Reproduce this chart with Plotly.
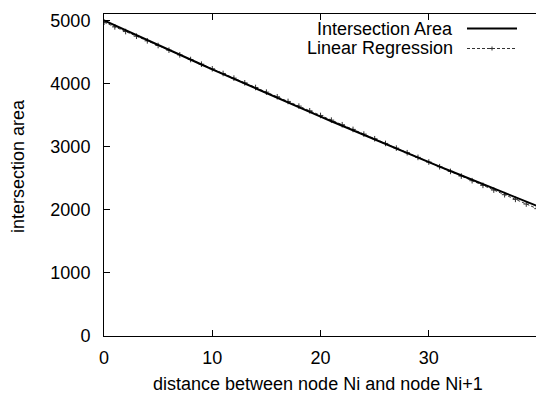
import plotly.graph_objects as go

distance = list(range(0, 41))
intersection_area = [5000, 4921, 4843, 4764, 4686, 4608, 4531, 4454, 4377, 4300,
                     4224, 4148, 4072, 3996, 3921, 3846, 3771, 3697, 3623, 3549,
                     3475, 3402, 3329, 3256, 3183, 3111, 3039, 2967, 2896, 2825,
                     2754, 2683, 2613, 2543, 2473, 2403, 2334, 2265, 2197, 2128, 2060]
linear_regression = [4970, 4896, 4822, 4748, 4675, 4601, 4527, 4453, 4379, 4305,
                     4232, 4158, 4084, 4010, 3936, 3862, 3789, 3715, 3641, 3567,
                     3493, 3419, 3346, 3272, 3198, 3124, 3050, 2976, 2903, 2829,
                     2755, 2681, 2607, 2533, 2460, 2386, 2312, 2238, 2164, 2090, 2017]
x_ticks = [0, 10, 20, 30, 40]
y_ticks = [0, 1000, 2000, 3000, 4000, 5000]
series_names = ["Intersection Area", "Linear Regression"]

FONT = "Liberation Sans, Arial, sans-serif"
W, H = 536, 394
L, R, T, B = 104, 0, 14, 58
pw, ph = W - L - R, H - T - B

fig = go.Figure()
fig.add_trace(go.Scatter(x=distance, y=linear_regression, mode="lines+markers",
                         line=dict(color="#333333", width=1, dash="3px,2px"),
                         marker=dict(symbol="cross-thin", size=4,
                                     line=dict(color="#333333", width=1)),
                         name=series_names[1], showlegend=False))
fig.add_trace(go.Scatter(x=distance, y=intersection_area, mode="lines",
                         line=dict(color="black", width=2), name=series_names[0],
                         showlegend=False))

def px_x(p):
    return (p - L) / pw

def px_y(p):
    return (H - B - p) / ph

# gnuplot-style key: text right-aligned, sample to the right
rows = [29, 48]
for i, name in enumerate(series_names):
    fig.add_annotation(x=px_x(455), y=px_y(rows[i]), xref="paper", yref="paper",
                       text=name, showarrow=False, xanchor="right", yanchor="middle",
                       font=dict(family=FONT, size=18, color="black"))
fig.add_shape(type="line", xref="paper", yref="paper",
              x0=px_x(467), x1=px_x(517), y0=px_y(28.5), y1=px_y(28.5),
              line=dict(color="black", width=2))
fig.add_shape(type="line", xref="paper", yref="paper",
              x0=px_x(467), x1=px_x(517), y0=px_y(48.5), y1=px_y(48.5),
              line=dict(color="#333333", width=1, dash="3px,2px"))
fig.add_shape(type="line", xref="paper", yref="paper",
              x0=px_x(492), x1=px_x(492), y0=px_y(46.5), y1=px_y(50.5),
              line=dict(color="#333333", width=1))
fig.add_shape(type="line", xref="paper", yref="paper",
              x0=px_x(490), x1=px_x(494), y0=px_y(48.5), y1=px_y(48.5),
              line=dict(color="#333333", width=1))

# axis titles
fig.add_annotation(x=px_x(318), y=px_y(384), xref="paper", yref="paper",
                   text="distance between node Ni and node Ni+1", showarrow=False,
                   xanchor="center", yanchor="middle",
                   font=dict(family=FONT, size=18, color="black"))
fig.add_annotation(x=px_x(18), y=px_y(166), xref="paper", yref="paper",
                   text="intersection area", showarrow=False, textangle=-90,
                   xanchor="center", yanchor="middle",
                   font=dict(family=FONT, size=18, color="black"))

fig.update_layout(
    width=W, height=H,
    margin=dict(l=L, r=R, t=T, b=B, pad=0),
    paper_bgcolor="white", plot_bgcolor="white",
    font=dict(family=FONT, size=18, color="black"),
    showlegend=False,
)
fig.update_xaxes(range=[0, 39.9], tickvals=x_ticks, ticks="inside", ticklen=6,
                 tickcolor="black", showline=True, linecolor="black", linewidth=1,
                 mirror="ticks", showgrid=False, zeroline=False,
                 ticklabelstandoff=5)
fig.update_yaxes(range=[0, 5100], tickvals=y_ticks, ticks="inside", ticklen=6,
                 tickcolor="black", showline=True, linecolor="black", linewidth=1,
                 showgrid=False, zeroline=False, ticklabelstandoff=9)

fig.write_html("out.html")
